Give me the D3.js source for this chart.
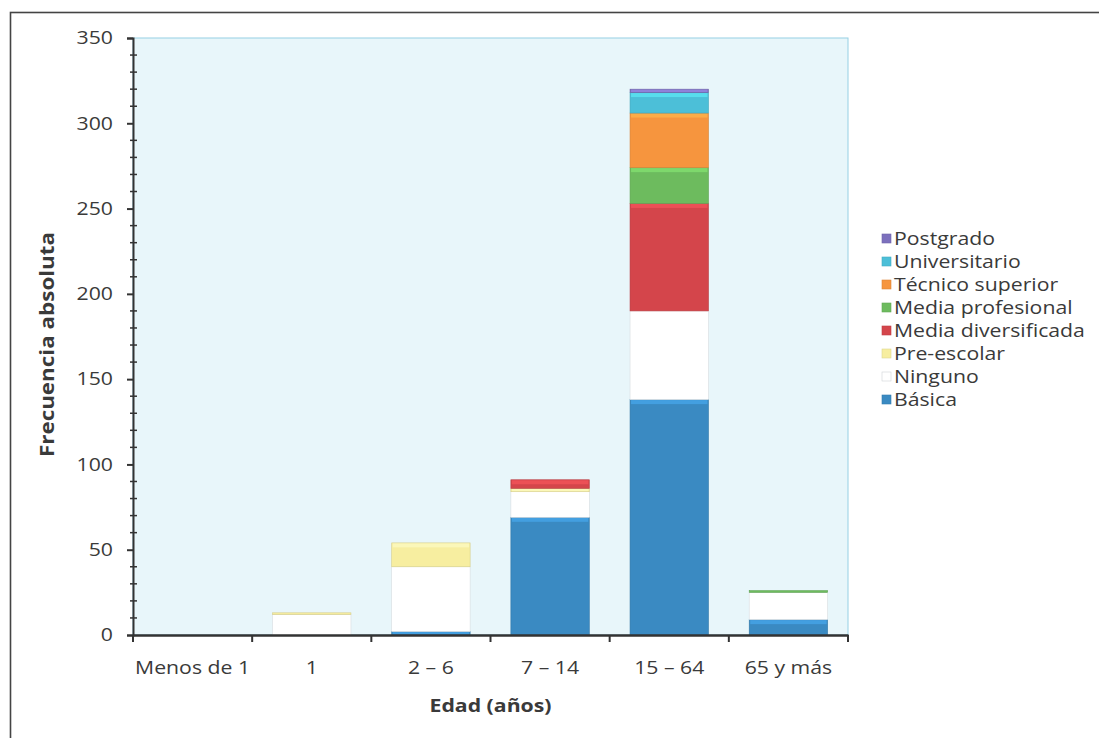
<!DOCTYPE html>
<html>
<head>
<meta charset="utf-8">
<script src="https://cdn.jsdelivr.net/npm/d3@7/dist/d3.min.js"></script>
<style>
  html, body { margin: 0; padding: 0; background: #ffffff; }
  svg { display: block; }
  text { font-family: "Open Sans", "Noto Sans", sans-serif; fill: #3a3a3a; }
</style>
</head>
<body>
<svg id="chart" width="1099" height="738"></svg>
<script>
// ---- Data ----
const categories = ["Menos de 1", "1", "2 – 6", "7 – 14", "15 – 64", "65 y más"];
const seriesNames = ["Básica", "Ninguno", "Pre-escolar", "Media diversificada", "Media profesional", "Técnico superior", "Universitario", "Postgrado"];
const basica        = [0, 0, 2, 69, 138, 9];
const ninguno       = [0, 12, 38, 15, 52, 16];
const preescolar    = [0, 1, 14, 2, 0, 0];
const mediaDiv      = [0, 0, 0, 5, 63, 0];
const mediaProf     = [0, 0, 0, 0, 21, 1];
const tecnico       = [0, 0, 0, 0, 32, 0];
const universitario = [0, 0, 0, 0, 12, 0];
const postgrado     = [0, 0, 0, 0, 2, 0];
const yTicks = [0, 50, 100, 150, 200, 250, 300, 350];
const seriesColors = ["#3a8ac2", "#ffffff", "#f7eea0", "#d4454b", "#6dbb5e", "#f6953e", "#4cbfd8", "#7c70bd"];

const seriesValues = [basica, ninguno, preescolar, mediaDiv, mediaProf, tecnico, universitario, postgrado];
const table = categories.map((c, i) => {
  const row = { cat: c };
  seriesNames.forEach((s, j) => row[s] = seriesValues[j][i]);
  return row;
});

// ---- Layout ----
const SX = 1.18; // horizontal stretch of the reference's lettering
const svg = d3.select("#chart");
const plot = { left: 133, right: 848, top: 38, bottom: 635 };

// outer frame (top and left edges visible)
svg.append("rect").attr("x", 10.5).attr("y", 12.5).attr("width", 1200).attr("height", 800)
  .attr("fill", "#ffffff").attr("stroke", "#444").attr("stroke-width", 1.6);

const x = d3.scaleBand().domain(categories).range([plot.left, plot.right])
  .paddingInner(0.342).paddingOuter(0.171);
const y = d3.scaleLinear().domain([0, 350]).range([plot.bottom, plot.top]);

// plot background
svg.append("rect").attr("x", plot.left).attr("y", plot.top)
  .attr("width", plot.right - plot.left).attr("height", plot.bottom - plot.top)
  .attr("fill", "#e8f6fa").attr("stroke", "#96d0e4").attr("stroke-width", 1);

// stacked bars
const stack = d3.stack().keys(seriesNames)(table);
const g = svg.append("g");
stack.forEach((layer, j) => {
  const col = seriesColors[j];
  const lg = g.append("g");
  layer.forEach((d, i) => {
    const h = y(d[0]) - y(d[1]);
    if (h <= 0) return;
    lg.append("rect")
      .attr("x", x(categories[i])).attr("width", x.bandwidth())
      .attr("y", y(d[1])).attr("height", h)
      .attr("fill", col)
      .attr("stroke", j === 1 ? "#d8dde0" : d3.color(col).darker(0.4))
      .attr("stroke-width", 0.6);
    if (j !== 1 && h > 3) {
      lg.append("rect")
        .attr("x", x(categories[i]) + 1).attr("width", x.bandwidth() - 2)
        .attr("y", y(d[1]) + 0.5).attr("height", Math.min(4, h - 1))
        .attr("fill", d3.color(col).brighter(0.7)).attr("opacity", 0.55);
    }
  });
});

// y axis
const yAxis = d3.axisLeft(y).tickValues(yTicks).tickSize(6).tickPadding(14);
const ya = svg.append("g").attr("transform", `translate(${plot.left},0)`).call(yAxis);
ya.select(".domain").attr("stroke", "#333").attr("stroke-width", 2);
ya.selectAll(".tick line").attr("stroke", "#333").attr("stroke-width", 2);
ya.selectAll(".tick text").attr("font-size", 18).attr("fill", "#3a3a3a")
  .style("font-family", "'Open Sans', sans-serif")
  .attr("x", -20 / SX).attr("transform", `scale(${SX},1)`);
// minor ticks
const minor = d3.range(0, 351, 10).filter(v => v % 50 !== 0);
svg.append("g").selectAll("line").data(minor).join("line")
  .attr("x1", plot.left - 3).attr("x2", plot.left + 4)
  .attr("y1", d => y(d)).attr("y2", d => y(d))
  .attr("stroke", "#333").attr("stroke-width", 1.5);

// x axis
const xa = svg.append("g").attr("transform", `translate(0,${plot.bottom})`)
  .call(d3.axisBottom(x).tickSize(0).tickPadding(26));
xa.select(".domain").attr("stroke", "#333").attr("stroke-width", 2.5);
xa.selectAll(".tick text").attr("font-size", 18).attr("fill", "#3a3a3a")
  .style("font-family", "'Open Sans', sans-serif")
  .attr("transform", `scale(${SX},1)`);
// category boundary ticks
const bounds = categories.map(c => x(c) - x.step() * x.paddingInner() / 2);
bounds.push(plot.right);
bounds[0] = plot.left;
svg.append("g").selectAll("line").data(bounds).join("line")
  .attr("x1", d => d).attr("x2", d => d)
  .attr("y1", plot.bottom).attr("y2", plot.bottom + 7)
  .attr("stroke", "#333").attr("stroke-width", 2);

// axis titles
svg.append("text")
  .attr("transform", `translate(${(plot.left + plot.right) / 2},712) scale(${SX},1)`)
  .attr("text-anchor", "middle").attr("font-size", 18).attr("font-weight", "bold")
  .text("Edad (años)");
svg.append("text").attr("transform", `translate(54,${(plot.top + plot.bottom) / 2 + 8}) rotate(-90) scale(${SX},1)`)
  .attr("text-anchor", "middle").attr("font-size", 19).attr("font-weight", "bold")
  .text("Frecuencia absoluta");

// legend (top = Postgrado)
const legendOrder = seriesNames.slice().reverse();
const lgd = svg.append("g");
legendOrder.forEach((name, k) => {
  const j = seriesNames.indexOf(name);
  const cy = 238.5 + k * 23;
  lgd.append("rect").attr("x", 882).attr("y", cy - 4.5).attr("width", 9).attr("height", 9)
    .attr("fill", seriesColors[j])
    .attr("stroke", j === 1 ? "#d0d4d8" : d3.color(seriesColors[j]).darker(0.3)).attr("stroke-width", 0.6);
  lgd.append("text").attr("transform", `translate(894,${cy}) scale(${SX},1)`).attr("dy", "0.35em")
    .attr("font-size", 18).text(name);
});
</script>
</body>
</html>
